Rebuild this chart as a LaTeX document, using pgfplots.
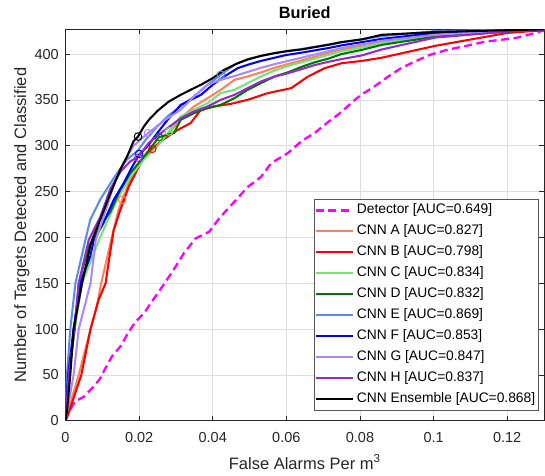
\documentclass[border=0pt]{standalone}
\usepackage{pgfplots}
\pgfplotsset{compat=1.18}
\usepackage{fontspec}
\setmainfont{Liberation Sans}
\definecolor{cA}{RGB}{255,128,90}
\definecolor{cB}{RGB}{255,0,0}
\definecolor{cC}{RGB}{120,225,120}
\definecolor{cD}{RGB}{0,120,0}
\definecolor{cE}{RGB}{90,140,240}
\definecolor{cF}{RGB}{0,0,255}
\definecolor{cG}{RGB}{170,135,255}
\definecolor{cH}{RGB}{150,40,205}
\definecolor{cDet}{RGB}{255,0,255}
\definecolor{axc}{RGB}{38,38,38}
\begin{document}
\begin{tikzpicture}
\begin{axis}[
  scale only axis, width=478.5pt, height=391.4pt,
  xmin=0, xmax=0.13, ymin=0, ymax=427,
  xtick={0,0.02,0.04,0.06,0.08,0.1,0.12},
  xticklabels={0,0.02,0.04,0.06,0.08,0.1,0.12},
  ytick={0,50,100,150,200,250,300,350,400},
  scaled x ticks=false,
  /pgf/number format/assume math mode=true,
  tick align=inside, major tick length=5pt,
  tick style={color=axc, line width=0.6pt},
  axis line style={color=axc, line width=0.6pt},
  grid=major, major grid style={color=black!13, line width=0.5pt},
  ticklabel style={font=\fontsize{14.5}{16}\selectfont, color=axc},
  xticklabel style={inner sep=0pt, anchor=north, yshift=-11pt},
  yticklabel style={inner sep=0pt, anchor=east, xshift=-6.5pt},
  xlabel={False Alarms Per m\textsuperscript{3}},
  ylabel={Number of Targets Detected and Classified},
  xlabel style={font=\fontsize{16.5}{18}\selectfont, color=axc, inner sep=0pt, at={(axis description cs:0.5,-0.1234)}, anchor=base},
  ylabel style={font=\fontsize{16.5}{18}\selectfont, color=axc, inner sep=0pt, at={(axis description cs:-0.1076,0.5)}, anchor=north},
  title={Buried},
  title style={font=\bfseries\fontsize{16.3}{18}\selectfont, inner sep=0pt, at={(axis description cs:0.5,1)}, anchor=base, yshift=5.3pt},
  legend cell align=left,
  legend image code/.code={\draw[#1] (0pt,0pt) -- (37pt,0pt);},
  legend style={at={(axis description cs:1,0)}, anchor=south east, xshift=-5pt, yshift=10pt,
    draw=black!65, line width=0.6pt, inner sep=0.5pt, font=\fontsize{13.8}{16}\selectfont,
    nodes={text height=10pt, text depth=3pt, inner ysep=4pt, inner xsep=3pt}},
  cnn/.style={line width=2.05pt},
]
% Detector
\addplot[color=cDet, dash pattern=on 8pt off 4.5pt, line width=2.3pt] coordinates {
(0,0)(0.0005,5)(0.001,10)(0.002,17)(0.0026,21)(0.0049,26)(0.0076,37)(0.0094,46)(0.0108,57)(0.0126,70)(0.0149,81)(0.0172,97)(0.019,108)(0.0213,117)(0.0231,128)(0.0254,141)(0.0276,154)(0.0299,168)(0.0322,183)(0.0354,199)(0.039,206)(0.042,222)(0.045,235)(0.0495,255)(0.0531,266)(0.0559,281)(0.0604,292)(0.0641,305)(0.0677,314)(0.0714,326)(0.0741,334)(0.0786,350)(0.0805,356)(0.0837,364)(0.0875,375)(0.0913,385)(0.095,392)(0.0989,399)(0.104,405)(0.109,409)(0.114,413.5)(0.1223,417.5)(0.1277,423)(0.13,426)};
\addlegendentry{Detector [AUC=0.649]}
% CNN A
\addplot[color=cA, cnn] coordinates {
(0,0)(0.0004,5)(0.0014,20)(0.0036,50)(0.0068,100)(0.0085,125)(0.0097,150)(0.0124,197)(0.0144,230)(0.0154,241)(0.0172,259)(0.019,274)(0.0217,288)(0.0249,301)(0.0295,320)(0.0313,330)(0.0349,342.8)(0.0386,351.9)(0.0422,361)(0.0459,371.9)(0.0495,375.5)(0.0531,380)(0.0568,385)(0.0604,389)(0.0641,393)(0.0677,397)(0.0714,401)(0.075,405)(0.0805,409)(0.0859,414)(0.1005,421)(0.12,425)(0.13,427)};
\addlegendentry{CNN A [AUC=0.827]}
% CNN B
\addplot[color=cB, cnn] coordinates {
(0,0)(0.001,10)(0.0018,20)(0.0043,50)(0.0068,100)(0.009,132)(0.0109,150)(0.0118,175)(0.0131,208)(0.0149,230)(0.0172,255.5)(0.0195,273.7)(0.0213,288)(0.0236,296.6)(0.0263,306)(0.0304,317)(0.034,324.7)(0.0368,339.2)(0.0404,342.8)(0.045,345.7)(0.0495,350.1)(0.055,357.4)(0.0613,362.8)(0.0659,375.5)(0.0704,384.6)(0.075,390)(0.0805,392.5)(0.0859,396)(0.1005,409)(0.12,423)(0.13,426)};
\addlegendentry{CNN B [AUC=0.798]}
% CNN C
\addplot[color=cC, cnn] coordinates {
(0,0)(0.001,50)(0.0025,100)(0.0045,150)(0.0091,197)(0.0103,208)(0.014,241)(0.0176,266)(0.0213,285)(0.0249,299)(0.0281,315.5)(0.0313,331.9)(0.0349,339.2)(0.0386,346.4)(0.0422,357.4)(0.0459,361)(0.0495,368.3)(0.0531,375.5)(0.0568,382)(0.0604,387)(0.0641,391)(0.0677,395)(0.0714,399)(0.075,403)(0.0805,407)(0.0859,412)(0.1005,420)(0.12,425)(0.13,427)};
\addlegendentry{CNN C [AUC=0.834]}
% CNN D
\addplot[color=cD, cnn] coordinates {
(0,0)(0.0009,50)(0.0025,100)(0.0036,150)(0.0063,190)(0.009,210)(0.0122,228)(0.0149,252)(0.0176,270)(0.0213,288)(0.0254,309.4)(0.0295,314)(0.0313,328.2)(0.0349,335.5)(0.0386,341)(0.0422,344.6)(0.0459,351.9)(0.0495,361)(0.0531,368.3)(0.0568,375.5)(0.0604,380)(0.0641,386)(0.0677,391)(0.0714,395)(0.075,400)(0.0805,404.5)(0.0859,410)(0.1005,419)(0.12,424.5)(0.13,427)};
\addlegendentry{CNN D [AUC=0.832]}
% CNN E
\addplot[color=cE, cnn] coordinates {
(0,0)(0.0004,50)(0.0013,100)(0.0027,150)(0.0054,197)(0.0067,219)(0.0094,241)(0.0122,259)(0.014,270)(0.0167,285)(0.0195,294)(0.0217,306)(0.0249,321)(0.028,333)(0.0313,342.8)(0.0349,353.7)(0.0386,366.5)(0.0422,377.4)(0.0459,388.3)(0.0495,394.5)(0.0531,398)(0.0568,401)(0.0604,403.5)(0.0641,405.5)(0.0677,408)(0.0714,410.5)(0.075,413)(0.0805,416)(0.0859,419.5)(0.1005,425)(0.12,426.5)(0.13,427)};
\addlegendentry{CNN E [AUC=0.869]}
% CNN F
\addplot[color=cF, cnn] coordinates {
(0,0)(0.0007,50)(0.0022,100)(0.004,150)(0.0067,179)(0.0077,197)(0.0103,215.5)(0.0131,241)(0.0158,259)(0.0181,277)(0.02,290)(0.0226,301)(0.0249,313.7)(0.0277,328)(0.0313,344.6)(0.034,350)(0.0368,355.5)(0.04,366.5)(0.0431,375.5)(0.0468,384.6)(0.0495,388.3)(0.0531,392.5)(0.0568,396)(0.06,399)(0.0641,401.5)(0.0677,404)(0.0714,406.5)(0.075,409.5)(0.0805,413)(0.0859,416.5)(0.1005,423)(0.12,426)(0.13,427)};
\addlegendentry{CNN F [AUC=0.853]}
% CNN G
\addplot[color=cG, cnn] coordinates {
(0,0)(0.0009,20)(0.0022,50)(0.0036,100)(0.0068,150)(0.0082,197)(0.011,230)(0.0135,262)(0.016,283)(0.0185,300)(0.0224,313.7)(0.027,328)(0.0313,339.2)(0.0349,353.7)(0.0386,366.5)(0.0422,371.9)(0.0459,376)(0.0495,380.5)(0.0531,385)(0.0568,389)(0.0604,392.5)(0.0641,396)(0.0677,399.5)(0.0714,403)(0.075,406.5)(0.0805,410.5)(0.0859,414.5)(0.1005,421)(0.12,425.5)(0.13,427)};
\addlegendentry{CNN G [AUC=0.847]}
% CNN H
\addplot[color=cH, cnn] coordinates {
(0,0)(0.0009,50)(0.0024,100)(0.0036,150)(0.0063,197)(0.0094,222)(0.0122,253)(0.015,272)(0.0176,283)(0.0198,288)(0.0226,303)(0.026,314)(0.0313,330)(0.0349,337.3)(0.0386,342.8)(0.0422,350.1)(0.0459,355.5)(0.0495,362.8)(0.0531,370.1)(0.0568,375.5)(0.0604,379)(0.0641,383.5)(0.0677,388)(0.0714,391.5)(0.075,394.5)(0.0805,398.5)(0.0859,405)(0.1005,418)(0.12,424.5)(0.13,427)};
\addlegendentry{CNN H [AUC=0.837]}
% Ensemble
\addplot[color=black, cnn] coordinates {
(0,0)(0.0004,10)(0.0013,50)(0.0022,100)(0.0045,150)(0.0067,190)(0.0072,197)(0.0094,219)(0.0122,248)(0.0149,274)(0.0167,288)(0.0185,305)(0.0197,310)(0.0213,321)(0.0226,328)(0.025,338)(0.028,348)(0.0313,355.5)(0.034,361)(0.0368,366.5)(0.04,373.7)(0.0431,382.8)(0.0468,390)(0.0495,394)(0.0531,398)(0.0568,401)(0.06,403)(0.0641,405)(0.0677,407.5)(0.0714,410)(0.075,413)(0.0805,416)(0.0859,421)(0.1005,424)(0.12,426)(0.13,427)};
\addlegendentry{CNN Ensemble [AUC=0.868]}
% threshold markers
\addplot[forget plot, only marks, mark=o, mark size=3.8pt, color=cA, line width=1pt] coordinates {(0.0154,241)};
\addplot[forget plot, only marks, mark=o, mark size=3.8pt, color=cB, line width=1pt] coordinates {(0.0236,296.6)};
\addplot[forget plot, only marks, mark=o, mark size=3.8pt, color=cC, line width=1pt] coordinates {(0.0281,315.5)};
\addplot[forget plot, only marks, mark=o, mark size=3.8pt, color=cD, line width=1pt] coordinates {(0.0254,309.4)};
\addplot[forget plot, only marks, mark=o, mark size=3.8pt, color=cE, line width=1pt] coordinates {(0.0422,377.4)};
\addplot[forget plot, only marks, mark=o, mark size=3.8pt, color=cF, line width=1pt] coordinates {(0.02,291)};
\addplot[forget plot, only marks, mark=o, mark size=3.8pt, color=cG, line width=1pt] coordinates {(0.0224,313.7)};
\addplot[forget plot, only marks, mark=o, mark size=3.8pt, color=cH, line width=1pt] coordinates {(0.0198,287)};
\addplot[forget plot, only marks, mark=o, mark size=3.8pt, color=black, line width=1pt] coordinates {(0.0197,310)};
\end{axis}
\pgfresetboundingbox
\path[use as bounding box] (-65.5pt,-54.3pt) rectangle (479.5pt,420.7pt);
\end{tikzpicture}
\end{document}
